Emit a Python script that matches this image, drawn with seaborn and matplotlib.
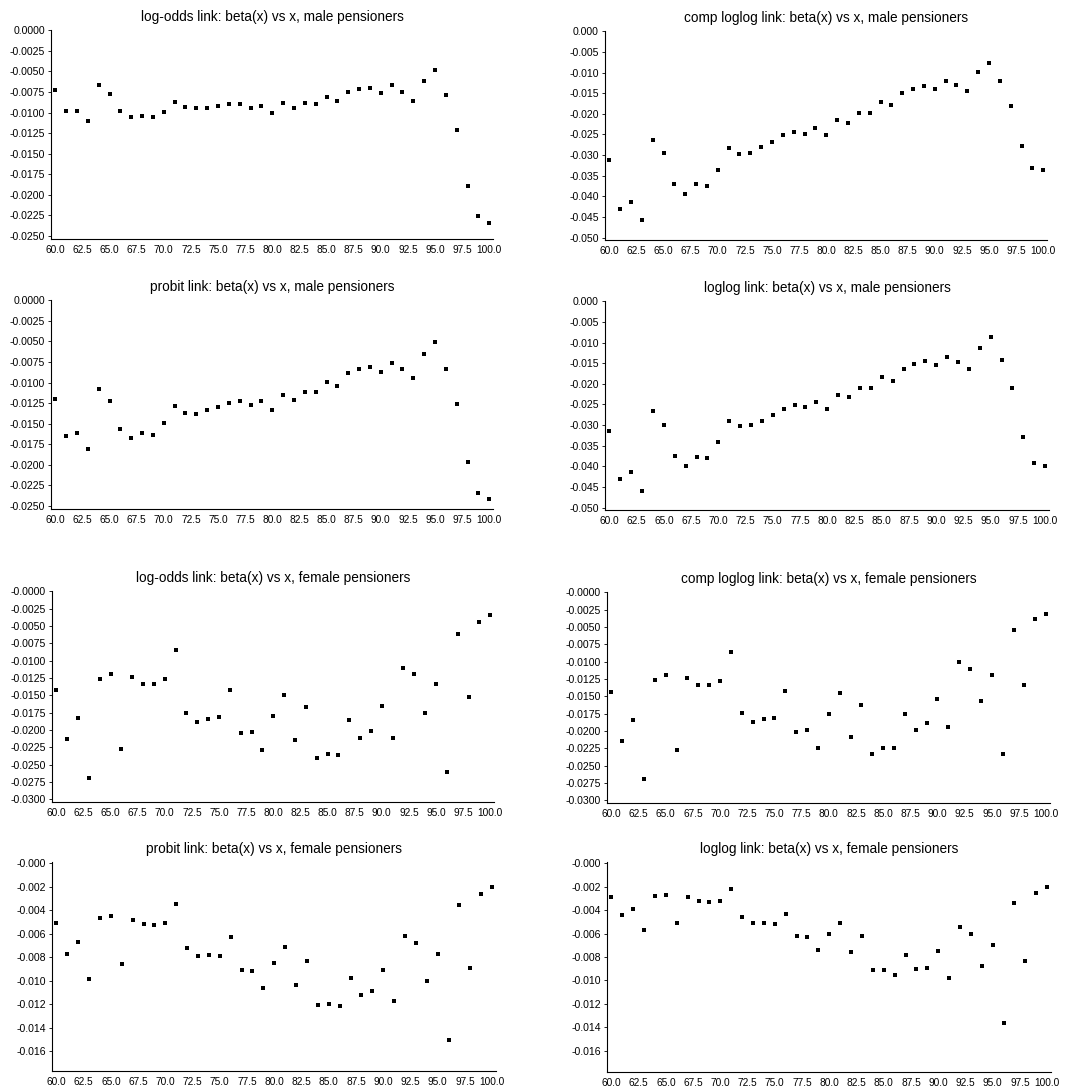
import numpy as np
import pandas as pd
import matplotlib
matplotlib.use("Agg")
import matplotlib.pyplot as plt
from matplotlib.ticker import FuncFormatter, MultipleLocator
import seaborn as sns

# ages 60..100
ages = list(range(60, 101))

logodds_male = [-0.0072, -0.0098, -0.0098, -0.0110, -0.0067, -0.0077, -0.0098, -0.0106, -0.0104, -0.0106,
                -0.0099, -0.0087, -0.0093, -0.0095, -0.0094, -0.0092, -0.0090, -0.0090, -0.0094, -0.0092,
                -0.0101, -0.0089, -0.0095, -0.0088, -0.0090, -0.0081, -0.0086, -0.0075, -0.0071, -0.0070,
                -0.0076, -0.0067, -0.0075, -0.0086, -0.0061, -0.0048, -0.0079, -0.0121, -0.0189, -0.0226,
                -0.0235]

comploglog_male = [-0.0313, -0.0430, -0.0413, -0.0457, -0.0264, -0.0296, -0.0371, -0.0394, -0.0371, -0.0374,
                   -0.0335, -0.0284, -0.0297, -0.0294, -0.0281, -0.0268, -0.0252, -0.0244, -0.0248, -0.0235,
                   -0.0252, -0.0214, -0.0221, -0.0198, -0.0197, -0.0172, -0.0179, -0.0150, -0.0139, -0.0133,
                   -0.0140, -0.0121, -0.0131, -0.0145, -0.0098, -0.0076, -0.0121, -0.0180, -0.0279, -0.0332,
                   -0.0336]

probit_male = [-0.0120, -0.0165, -0.0162, -0.0181, -0.0108, -0.0122, -0.0156, -0.0167, -0.0161, -0.0164,
               -0.0149, -0.0129, -0.0137, -0.0138, -0.0134, -0.0130, -0.0125, -0.0123, -0.0127, -0.0122,
               -0.0133, -0.0115, -0.0121, -0.0111, -0.0111, -0.0099, -0.0104, -0.0089, -0.0083, -0.0081,
               -0.0087, -0.0076, -0.0084, -0.0094, -0.0065, -0.0051, -0.0083, -0.0126, -0.0197, -0.0235,
               -0.0242]

loglog_male = [-0.0315, -0.0432, -0.0415, -0.0460, -0.0265, -0.0299, -0.0376, -0.0399, -0.0377, -0.0380,
               -0.0341, -0.0290, -0.0303, -0.0300, -0.0289, -0.0275, -0.0260, -0.0252, -0.0257, -0.0245,
               -0.0262, -0.0226, -0.0233, -0.0211, -0.0210, -0.0183, -0.0192, -0.0163, -0.0151, -0.0145,
               -0.0155, -0.0134, -0.0146, -0.0163, -0.0112, -0.0087, -0.0141, -0.0210, -0.0328, -0.0391,
               -0.0400]

logodds_female = [-0.0143, -0.0213, -0.0183, -0.0269, -0.0126, -0.0119, -0.0227, -0.0123, -0.0133, -0.0134,
                  -0.0127, -0.0085, -0.0175, -0.0188, -0.0184, -0.0182, -0.0143, -0.0204, -0.0203, -0.0229,
                  -0.0180, -0.0149, -0.0215, -0.0167, -0.0241, -0.0235, -0.0236, -0.0186, -0.0211, -0.0202,
                  -0.0166, -0.0211, -0.0110, -0.0120, -0.0175, -0.0134, -0.0261, -0.0061, -0.0152, -0.0044,
                  -0.0034]

comploglog_female = [-0.0144, -0.0214, -0.0184, -0.0269, -0.0127, -0.0119, -0.0227, -0.0124, -0.0133, -0.0134,
                     -0.0128, -0.0086, -0.0174, -0.0187, -0.0183, -0.0181, -0.0142, -0.0201, -0.0199, -0.0224,
                     -0.0176, -0.0145, -0.0209, -0.0162, -0.0233, -0.0225, -0.0225, -0.0176, -0.0199, -0.0189,
                     -0.0154, -0.0195, -0.0101, -0.0110, -0.0157, -0.0120, -0.0233, -0.0055, -0.0133, -0.0039,
                     -0.0031]

probit_female = [-0.0051, -0.0077, -0.0067, -0.0099, -0.0047, -0.0045, -0.0086, -0.0048, -0.0052, -0.0053,
                 -0.0051, -0.0035, -0.0072, -0.0079, -0.0078, -0.0079, -0.0063, -0.0091, -0.0092, -0.0106,
                 -0.0085, -0.0071, -0.0104, -0.0083, -0.0121, -0.0120, -0.0122, -0.0098, -0.0112, -0.0109,
                 -0.0091, -0.0117, -0.0062, -0.0068, -0.0100, -0.0077, -0.0151, -0.0036, -0.0089, -0.0026,
                 -0.0020]

loglog_female = [-0.0029, -0.0044, -0.0039, -0.0057, -0.0028, -0.0027, -0.0051, -0.0029, -0.0032, -0.0033,
                 -0.0032, -0.0022, -0.0046, -0.0051, -0.0051, -0.0052, -0.0043, -0.0062, -0.0063, -0.0074,
                 -0.0060, -0.0051, -0.0076, -0.0062, -0.0091, -0.0091, -0.0095, -0.0078, -0.0090, -0.0089,
                 -0.0075, -0.0098, -0.0054, -0.0060, -0.0088, -0.0070, -0.0136, -0.0034, -0.0083, -0.0025,
                 -0.0020]

titles = [
    "log-odds link: beta(x) vs x, male pensioners",
    "comp loglog link: beta(x) vs x, male pensioners",
    "probit link: beta(x) vs x, male pensioners",
    "loglog link: beta(x) vs x, male pensioners",
    "log-odds link: beta(x) vs x, female pensioners",
    "comp loglog link: beta(x) vs x, female pensioners",
    "probit link: beta(x) vs x, female pensioners",
    "loglog link: beta(x) vs x, female pensioners",
]
series = [logodds_male, comploglog_male, probit_male, loglog_male,
          logodds_female, comploglog_female, probit_female, loglog_female]

# axes boxes in pixels: left, right, top, bottom
W, H = 1088, 1091
boxes = [
    (51, 493, 30, 239), (605, 1047, 31, 240),
    (51, 493, 300, 509), (605, 1049, 301, 510),
    (52, 494, 591, 802), (607, 1050, 592, 803),
    (52, 496, 862, 1071), (607, 1051, 862, 1072),
]
# y range, tick step, decimals, force minus sign on zero
yspecs = [
    ((-0.0254, 0.00005), 0.0025, 4, False), ((-0.0506, 0.0001), 0.005, 3, False),
    ((-0.0254, 0.00005), 0.0025, 4, False), ((-0.0506, 0.0001), 0.005, 3, False),
    ((-0.0304, 0.00005), 0.0025, 4, True), ((-0.0304, 0.00005), 0.0025, 4, True),
    ((-0.0177, 0.0001), 0.002, 3, True), ((-0.0178, 0.0001), 0.002, 3, True),
]

sns.set_style("ticks")
plt.rcParams["font.family"] = ["Liberation Sans", "DejaVu Sans"]

fig = plt.figure(figsize=(W / 100, H / 100), dpi=100)

for title, vals, (l, r, t, b), (ylim, step, dec, negzero) in zip(titles, series, boxes, yspecs):
    ax = fig.add_axes([l / W, 1 - b / H, (r - l) / W, (b - t) / H])
    df = pd.DataFrame({"age": ages, "beta": vals})
    sns.scatterplot(data=df, x="age", y="beta", ax=ax, marker="s", color="black",
                    s=6, linewidth=0, legend=False)
    ax.set_xlim(59.6, 100.35)
    ax.set_ylim(*ylim)
    ax.xaxis.set_major_locator(MultipleLocator(2.5))
    ax.yaxis.set_major_locator(MultipleLocator(step))

    def yfmt(v, pos, dec=dec, negzero=negzero):
        if abs(v) < 1e-12:
            return ("-" if negzero else "") + f"{0:.{dec}f}"
        return f"{v:.{dec}f}"

    ax.yaxis.set_major_formatter(FuncFormatter(yfmt))
    ax.xaxis.set_major_formatter(FuncFormatter(lambda v, pos: f"{v:.1f}"))
    ax.set_xlabel("")
    ax.set_ylabel("")
    ax.set_title(title, fontsize=9.8, pad=6.5, color="black")
    for side in ("top", "right"):
        ax.spines[side].set_visible(False)
    for side in ("left", "bottom"):
        ax.spines[side].set_linewidth(0.8)
        ax.spines[side].set_color("black")
    ax.tick_params(axis="y", labelsize=7.6, length=2, width=0.6, pad=2.5, colors="black")
    ax.tick_params(axis="x", labelsize=7.3, length=0, pad=4, colors="black")

fig.savefig("out.png", dpi=100, facecolor="white")
